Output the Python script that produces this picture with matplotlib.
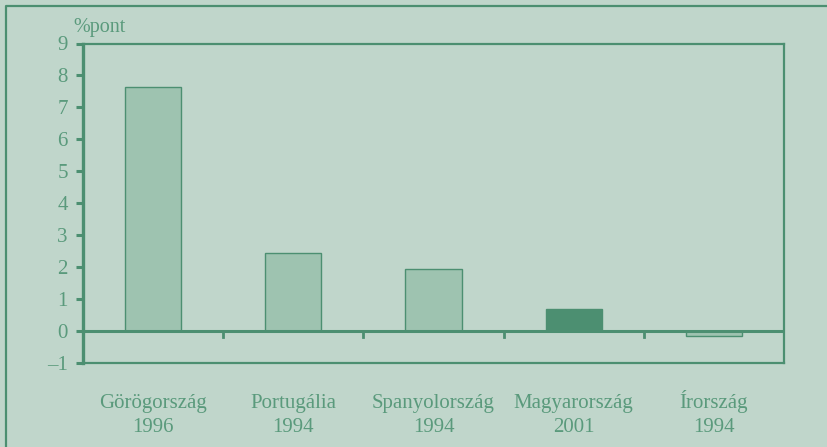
import matplotlib.pyplot as plt
import matplotlib.transforms as mtransforms
from matplotlib.lines import Line2D

plt.rcParams['font.family'] = ['Liberation Serif', 'DejaVu Serif']

countries = ['Görögország', 'Portugália', 'Spanyolország', 'Magyarország', 'Írország']
years = ['1996', '1994', '1994', '2001', '1994']
values = [7.65, 2.45, 1.95, 0.68, -0.15]

bg = '#c0d6cb'
line_col = '#4c8f71'
text_col = '#5a9a7c'
light_bar = '#9ec3b0'
dark_bar = '#4c8f71'

W, H = 828, 447
fig = plt.figure(figsize=(W / 100, H / 100), dpi=100, facecolor=bg)
ax = fig.add_axes([83 / W, 1 - 363 / H, (784 - 83) / W, (363 - 43.5) / H])
ax.set_facecolor(bg)

colors = [light_bar] * len(values)
colors[3] = dark_bar
x = range(len(values))
ax.bar(x, values, width=0.4, color=colors, edgecolor=line_col, linewidth=1.0, zorder=2)
ax.axhline(0, color=line_col, linewidth=2.2, zorder=3)

ax.set_xlim(-0.5, len(values) - 0.5)
ax.set_ylim(-1, 9)
ax.set_yticks(range(-1, 10))
ax.set_yticklabels(['\u20131'] + [str(i) for i in range(0, 10)])
ax.tick_params(axis='y', direction='out', length=5, width=2.2, color=line_col,
               labelcolor=text_col, labelsize=15, pad=6)
ax.set_xticks([])

# category labels, two lines each, aligned on baselines
trans = mtransforms.blended_transform_factory(ax.transData, fig.transFigure)
for i, (c, yr) in enumerate(zip(countries, years)):
    ax.text(i, 1 - 408 / H, c, transform=trans, ha='center', va='baseline',
            color=text_col, fontsize=15)
    ax.text(i, 1 - 432 / H, yr, transform=trans, ha='center', va='baseline',
            color=text_col, fontsize=15)

# small ticks between categories on the zero line
for b in [0.5, 1.5, 2.5, 3.5]:
    ax.plot([b, b], [0, -0.19], color=line_col, linewidth=2, zorder=3, clip_on=False)

for side in ['top', 'right', 'bottom']:
    ax.spines[side].set_color(line_col)
    ax.spines[side].set_linewidth(1.6)
ax.spines['left'].set_color(line_col)
ax.spines['left'].set_linewidth(2.4)

fig.text(73 / W, 1 - 32 / H, '%pont', color=text_col, fontsize=14.5, va='baseline', ha='left')

# outer frame: left and top edges
fig.add_artist(Line2D([6 / W, 6 / W, 1.0], [0.0, 1 - 6 / H, 1 - 6 / H],
                      transform=fig.transFigure, color=line_col, linewidth=1.6))

fig.savefig('out.png', dpi=100, facecolor=bg)
